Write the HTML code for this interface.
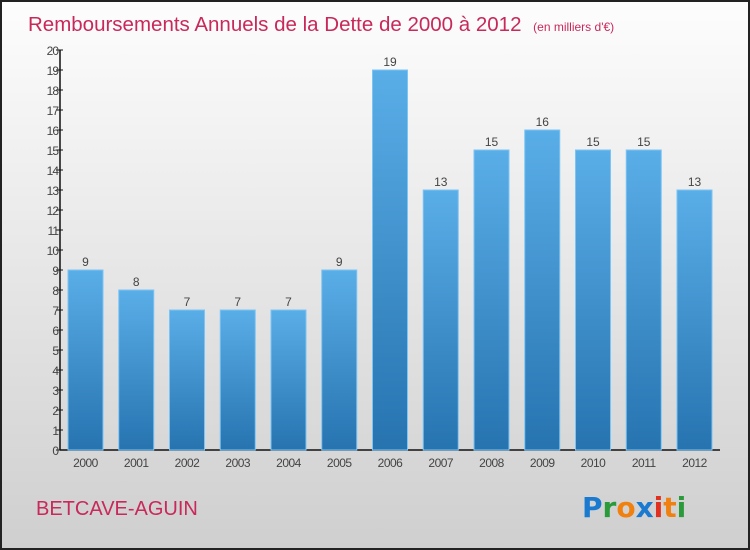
<!DOCTYPE html>
<html><head><meta charset="utf-8"><style>
body{margin:0}
#wrap{position:relative;width:750px;height:550px;box-sizing:border-box;border:2px solid #222;background:linear-gradient(#fdfdfd,#cfcfcf);overflow:hidden;font-family:"Liberation Sans",sans-serif}
</style></head><body>
<div id="wrap">
<svg id="chart" width="746" height="546" style="position:absolute;left:0;top:0">
<defs><linearGradient id="bg" x1="0" y1="0" x2="0" y2="1"><stop offset="0" stop-color="#5aaee8"/><stop offset="1" stop-color="#2673b0"/></linearGradient></defs>
<text x="26" y="29" font-size="20.5" fill="#c8285a">Remboursements Annuels de la Dette de 2000 à 2012 <tspan font-size="12" dx="6">(en milliers d'€)</tspan></text>
<text x="34" y="513" font-size="20" fill="#c8285a">BETCAVE-AGUIN</text>
<g font-size="28" font-weight="bold" font-family="'DejaVu Sans',sans-serif">
<text x="580" y="515"><tspan fill="#1a7ad0">P</tspan><tspan fill="#2a9a3a">r</tspan><tspan fill="#f08010">o</tspan><tspan fill="#1a7ad0">x</tspan><tspan fill="#e03020">i</tspan><tspan fill="#f08010">t</tspan><tspan fill="#2a9a3a">i</tspan></text></g>
<g id="axes"></g><g id="bars"></g>
</svg></div>
<script>
const categories=["2000","2001","2002","2003","2004","2005","2006","2007","2008","2009","2010","2011","2012"];
const values=[9,8,7,7,7,9,19,13,15,16,15,15,13];
const yTicks=[0,1,2,3,4,5,6,7,8,9,10,11,12,13,14,15,16,17,18,19,20];
const NS="http://www.w3.org/2000/svg";
const X0=58,Y0=448,H=400,YMAX=20,STEP=50.75,BW=35;
const y=v=>Y0-v/YMAX*H;
const x=i=>X0+8+i*STEP;
function mk(t,a,p){const e=document.createElementNS(NS,t);for(const k in a)e.setAttribute(k,a[k]);p.appendChild(e);return e;}
const ax=document.getElementById('axes'),bs=document.getElementById('bars');
let l=mk('line',{x1:X0,y1:y(YMAX),x2:X0,y2:Y0,stroke:'#111','stroke-width':1.5},ax);


l=mk('line',{x1:X0,y1:Y0,x2:718,y2:Y0,stroke:'#111','stroke-width':1.5},ax);


yTicks.forEach(v=>{
 const t=mk('line',{x1:X0-4,x2:X0+3,y1:y(v),y2:y(v),stroke:'#111'},ax);
 
 
 const tx=mk('text',{x:X0-2,y:y(v)+5,'font-size':12,fill:'#444','text-anchor':'end','letter-spacing':'-1'},ax);
 tx.textContent=v;
 
 
});
categories.forEach((c,i)=>{
 const r=mk('rect',{x:x(i),y:y(values[i]),width:BW,height:Y0-y(values[i]),fill:'url(#bg)',stroke:'#7cc4f4','stroke-width':1},bs);
 
 
 const v=mk('text',{x:x(i)+BW/2,y:y(values[i])-4,'font-size':12,fill:'#444','text-anchor':'middle'},bs);
 v.textContent=values[i];
 
 
 const xl=mk('text',{x:x(i)+BW/2,y:Y0+17,'font-size':12,fill:'#444','text-anchor':'middle','letter-spacing':'-0.5'},ax);
 xl.textContent=c;
 
 
});
</script>
</body></html>
